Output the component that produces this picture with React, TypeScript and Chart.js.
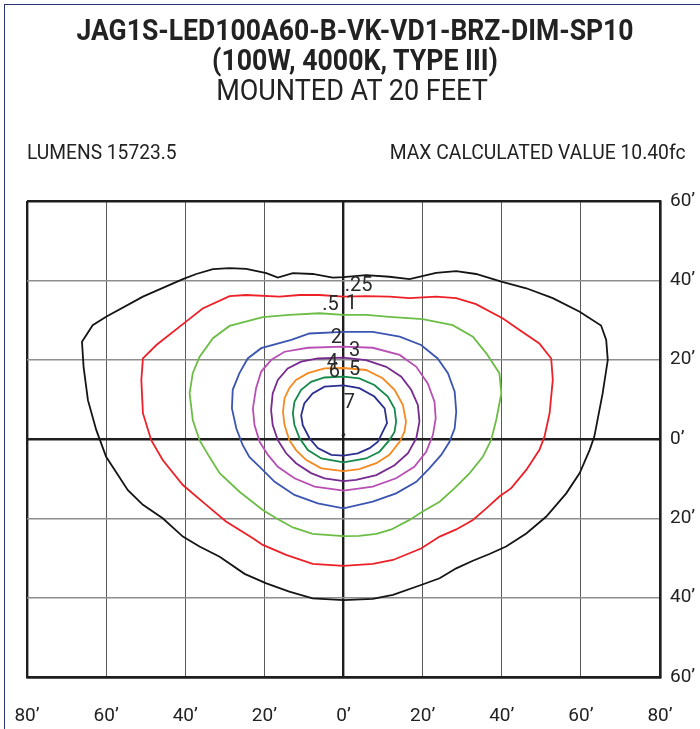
import React, { useEffect, useRef } from 'react';
import { Chart, registerables } from 'chart.js';
Chart.register(...registerables);

// ---------- data (feet) ----------
const titleLine1 = 'JAG1S-LED100A60-B-VK-VD1-BRZ-DIM-SP10';
const titleLine2 = '(100W, 4000K, TYPE III)';
const titleLine3 = 'MOUNTED AT 20 FEET';
const lumensText = 'LUMENS 15723.5';
const maxText = 'MAX CALCULATED VALUE 10.40fc';

const xRange = [-80, 80];
const yRange = [-60, 60];
const gridStep = 20;

const iso025 = [[0,40.8],[5.7,41.3],[11.6,40.9],[16.7,40.3],[23.4,41.9],[28.5,42.3],[33.5,41.6],[39.9,39.7],[46.2,38],[52.9,35.5],[59.7,32.1],[65.1,28.6],[66.4,25],[66.8,19.9],[65.5,11.5],[63.4,0.6],[62.2,-2.8],[59.7,-8.6],[56.3,-13.7],[51.2,-19.6],[46.2,-23.8],[41.1,-27.1],[36.9,-29],[32.7,-30.7],[28.5,-32.6],[24.3,-35.1],[19.6,-36.8],[12.5,-39.3],[7.4,-40.3],[0,-40.6],[-7.8,-40.2],[-13.7,-38.5],[-19.5,-36.4],[-25,-34],[-31.3,-29.7],[-36.4,-27.1],[-40.6,-24.6],[-45.7,-20],[-50.7,-16.6],[-54.5,-12.9],[-60,-4.5],[-62.5,2.3],[-64.6,9.8],[-65.7,18.2],[-66.1,24.5],[-63.4,28.7],[-60,30.8],[-50.7,35.9],[-40.6,40.3],[-37.2,41.6],[-33,42.8],[-28.8,43.1],[-24.6,42.9],[-19.5,41.8],[-16.6,40.7],[-12.8,41.8],[-7.8,41.6],[-2.7,40.7],[0,40.8]];
const iso05 = [[0,35.9],[5.7,36],[11.6,35.9],[16.7,35.5],[23.4,35.9],[28.5,35.5],[33.5,34],[40.3,30.4],[44.5,27.5],[49.5,24.1],[52.5,20.3],[52.9,14.9],[52.1,6.5],[50.8,0.6],[49.5,-2.8],[46.2,-7.8],[42.4,-12.4],[39.4,-14.5],[36.1,-17.5],[32.7,-20.4],[28.5,-22.8],[24.3,-24.6],[19.6,-27.6],[12.5,-30.5],[7.4,-31.5],[0,-32],[-7.8,-31.5],[-14.5,-29.2],[-20.4,-26.7],[-22.9,-25],[-29.7,-20.8],[-34.7,-16.6],[-40.6,-11.6],[-45.7,-5.3],[-48.6,-0.3],[-50.7,6.5],[-51.1,14.9],[-50.7,20.3],[-47.3,23.7],[-39.8,29.6],[-35.6,32.9],[-28.8,36],[-24.6,36.3],[-16.2,35.9],[-11.1,36.3],[-6.1,36.3],[0,35.9]];
const iso1 = [[0,31.3],[5.7,31.3],[11.6,30.8],[20,30.2],[27.6,28.7],[32.7,25.8],[36.1,21.6],[39.4,16.6],[39.9,11.5],[38.6,4.8],[37.3,-0.3],[35.2,-4.5],[31.9,-8.6],[28.1,-12.4],[24.3,-15.8],[20,-18.3],[16.7,-20.4],[12.1,-22.8],[8.3,-23.9],[4,-24.4],[0,-24.5],[-7.8,-23.9],[-12.8,-22.3],[-17,-20],[-20.4,-17.9],[-26.3,-13.3],[-31.3,-8.6],[-33.9,-4.5],[-36.4,-0.3],[-38.1,4.8],[-38.9,11.5],[-38.1,16.6],[-36.4,20.7],[-33,25.4],[-28.8,28.5],[-20.4,30.7],[-13.7,31.3],[-6.1,31.7],[0,31.3]];
const iso2 = [[0,27],[7.4,27],[14.2,25.8],[19.6,23.7],[23.8,20.3],[26.4,16.6],[28.1,11.9],[28.5,6.9],[28.1,2.7],[26.8,-0.7],[24.7,-4],[21.7,-7.4],[18.4,-10.8],[13.3,-13.7],[7.4,-15.8],[0,-17.5],[-6.5,-16.2],[-12.4,-14.1],[-17.4,-10.8],[-20.8,-7.4],[-23.8,-4.5],[-25.5,-1.5],[-27.1,2.7],[-28.2,7.7],[-28,12.4],[-26.3,16.6],[-24.2,20.3],[-20.8,22.9],[-13.2,25],[-8.6,26.6],[0,27]];
const iso3 = [[0,23.3],[7.4,23],[14.2,21.2],[18.4,18.2],[21.3,14],[23,9.4],[23.3,5.2],[22.6,1],[20.9,-3.2],[17.9,-7],[13.3,-9.9],[7.4,-12],[0,-13],[-7.3,-12],[-12.4,-9.9],[-16.6,-7],[-19.1,-4],[-21.2,-0.7],[-22.5,3.5],[-22.9,7.7],[-22.1,12.8],[-20.8,17],[-18.3,19.9],[-14.9,22],[-9,23],[0,23.3]];
const iso4 = [[0,20.5],[5.7,19.9],[10.8,18.2],[14.6,15.7],[17.1,12.4],[18.8,8.6],[19.2,4.4],[18.4,0.2],[16.3,-3.6],[12.9,-6.6],[8.3,-9.1],[3.2,-10.3],[0,-10.6],[-4.8,-9.9],[-8.2,-8.6],[-12,-6.1],[-14.5,-3.6],[-16.6,-0.3],[-17.9,3.5],[-18.3,7.3],[-17.9,11.5],[-16.6,14.9],[-14.1,17.8],[-10.7,19.5],[-6.5,20.3],[0,20.5]];
const iso5 = [[0,17.9],[5.7,17.4],[9.9,15.3],[12.9,12.4],[15,8.6],[15.8,4.4],[15.4,1.8],[14.2,-0.7],[11.6,-4],[8.3,-6.1],[4,-7.6],[0,-8.1],[-5.6,-7.4],[-9.4,-5.3],[-12,-2.8],[-13.7,-0.3],[-14.9,3.5],[-15.3,6.9],[-14.9,10.3],[-13.7,12.8],[-12,14.9],[-9,16.6],[-4.8,17.8],[0,17.9]];
const iso6 = [[0,15.7],[4,15.3],[7.8,13.6],[11.2,10.7],[12.9,7.7],[13.3,4.4],[12.9,1.8],[11.6,-0.3],[9.1,-3.2],[5.7,-4.9],[0,-5.9],[-5.6,-4.9],[-9,-2.8],[-11.1,0.2],[-12.4,3.5],[-12.8,6.5],[-12.4,9.4],[-10.7,12.4],[-8.2,14.4],[-4.8,15.5],[0,15.7]];
const iso7 = [[0,13.5],[4,12.8],[7.8,10.7],[10.4,7.7],[11,4],[9.9,1.8],[8.7,-0.7],[6.6,-2.3],[3.6,-3.6],[0,-4.2],[-3.1,-4],[-6.5,-2.3],[-8.6,0.2],[-10.3,3.5],[-10.7,6],[-9.9,9],[-7.8,11.5],[-4.8,13.2],[0,13.5]];

const contourLevels = ['.25', '.5', '1', '2', '3', '4', '5', '6', '7'];
const contourData = [iso025, iso05, iso1, iso2, iso3, iso4, iso5, iso6, iso7];
const contourColors = ['#151515', '#ee2027', '#6cbd45', '#3b55b0', '#b84fb4', '#772a8f', '#f5891f', '#138a4a', '#2b2f8f'];

// contour label texts and their positions (feet)
const labelTexts = ['.25', '.5', '1', '2', '3', '4', '6', '5', '7'];
const labelX = [3.8, -3.3, 2.0, -1.8, 2.8, -2.8, -2.3, 2.8, 1.5];
const labelY = [38.6, 33.8, 34.0, 25.5, 22.1, 19.2, 16.9, 17.4, 9.2];

const originMarker = [[0, 1.2]];

const toXY = (arr: number[][]) => arr.map(([x, y]) => ({ x, y }));
const primeLabel = (v: any) => Math.abs(Number(v)) + '\u2019';

const labelPlugin = {
  id: 'isoLabels',
  afterDatasetsDraw(chart: any) {
    const { ctx, scales } = chart;
    ctx.save();
    ctx.font = '20px Roboto';
    ctx.fillStyle = '#2a2a2a';
    ctx.textAlign = 'center';
    ctx.textBaseline = 'middle';
    labelTexts.forEach((t, i) => {
      ctx.fillText(t, scales.x.getPixelForValue(labelX[i]), scales.y.getPixelForValue(labelY[i]));
    });
    ctx.restore();
  },
};

function ChartCanvas() {
  const ref = useRef<HTMLCanvasElement | null>(null);
  useEffect(() => {
    if (!ref.current) return;
    const datasets: any[] = contourData.map((d, i) => ({
      label: contourLevels[i],
      data: toXY(d),
      showLine: true,
      borderColor: contourColors[i],
      backgroundColor: contourColors[i],
      borderWidth: 1.8,
      pointRadius: 0,
      tension: 0,
      fill: false,
    }));
    datasets.push({
      label: 'origin',
      data: toXY(originMarker),
      pointStyle: 'triangle',
      pointRadius: 2.5,
      backgroundColor: '#222',
      borderColor: '#222',
      borderWidth: 0,
      showLine: false,
    });
    const isEdge = (v: number, r: number[]) => v === r[0] || v === r[1] || v === 0;
    const chart = new Chart(ref.current, {
      type: 'scatter',
      data: { datasets },
      plugins: [labelPlugin],
      options: {
        responsive: false,
        animation: false,
        devicePixelRatio: 1,
        layout: { padding: { left: 27, top: 201, right: 0, bottom: 0 } },
        plugins: { legend: { display: false }, tooltip: { enabled: false }, title: { display: false } },
        scales: {
          x: {
            type: 'linear',
            position: 'bottom',
            min: xRange[0],
            max: xRange[1],
            afterFit: (s: any) => { s.height = 52; s.paddingLeft = 0; s.paddingRight = 0; },
            ticks: {
              stepSize: gridStep,
              callback: primeLabel,
              padding: 28,
              color: '#222',
              font: { family: 'Roboto', size: 19 },
              maxRotation: 0,
              autoSkip: false,
            },
            grid: {
              drawTicks: false,
              color: (c: any) => (isEdge(c.tick.value, xRange) ? '#1e1e1e' : '#5a5a5a'),
              lineWidth: (c: any) => (isEdge(c.tick.value, xRange) ? 2.4 : 1),
            },
            border: { display: true, color: '#1e1e1e', width: 2.4 },
          },
          y: {
            type: 'linear',
            position: 'right',
            min: yRange[0],
            max: yRange[1],
            afterFit: (s: any) => { s.width = 40; s.paddingTop = 0; s.paddingBottom = 0; },
            ticks: {
              stepSize: gridStep,
              callback: primeLabel,
              padding: 10,
              color: '#222',
              font: { family: 'Roboto', size: 19 },
              autoSkip: false,
            },
            grid: {
              drawTicks: false,
              color: (c: any) => (isEdge(c.tick.value, yRange) ? '#1e1e1e' : '#8e8e8e'),
              lineWidth: (c: any) => (isEdge(c.tick.value, yRange) ? 2.4 : 1.5),
            },
            border: { display: true, color: '#1e1e1e', width: 2.4 },
          },
        },
      } as any,
    });
    return () => chart.destroy();
  }, []);
  return (
    <canvas
      ref={ref}
      width={700}
      height={729}
      style={{ position: 'absolute', left: 0, top: 0, width: 700, height: 729 }}
    />
  );
}

function Line(props: { text: string; top: number; size: number; bold?: boolean; align: 'center' | 'left' | 'right'; x: number; sx: number }) {
  const { text, top, size, bold, align, x, sx } = props;
  const base: any = {
    position: 'absolute',
    top,
    fontFamily: 'Roboto, sans-serif',
    fontSize: size,
    lineHeight: size + 'px',
    fontWeight: bold ? 700 : 400,
    color: '#222',
    whiteSpace: 'nowrap',
  };
  if (align === 'center') {
    return (
      <div style={{ ...base, left: x - 350, width: 700, textAlign: 'center', transform: `scaleX(${sx})`, transformOrigin: '50% 50%' }}>{text}</div>
    );
  }
  if (align === 'left') {
    return <div style={{ ...base, left: x, transform: `scaleX(${sx})`, transformOrigin: '0 50%' }}>{text}</div>;
  }
  return <div style={{ ...base, right: 700 - x, transform: `scaleX(${sx})`, transformOrigin: '100% 50%' }}>{text}</div>;
}

export default function App() {
  return (
    <div style={{ position: 'absolute', left: 0, top: 0, width: 700, height: 729, background: '#fff', overflow: 'hidden' }}>
      <div style={{ position: 'absolute', left: 4, top: 4, width: 700, height: 730, borderLeft: '1.5px solid #27326e', borderTop: '1.5px solid #27326e' }} />
      <ChartCanvas />
      <Line text={titleLine1} top={15} size={30} bold align="center" x={355} sx={0.885} />
      <Line text={titleLine2} top={45} size={30} bold align="center" x={355} sx={0.89} />
      <Line text={titleLine3} top={75} size={30} align="center" x={352} sx={0.9} />
      <Line text={lumensText} top={142} size={20} align="left" x={27} sx={0.96} />
      <Line text={maxText} top={142} size={20} align="right" x={686} sx={0.965} />
    </div>
  );
}
